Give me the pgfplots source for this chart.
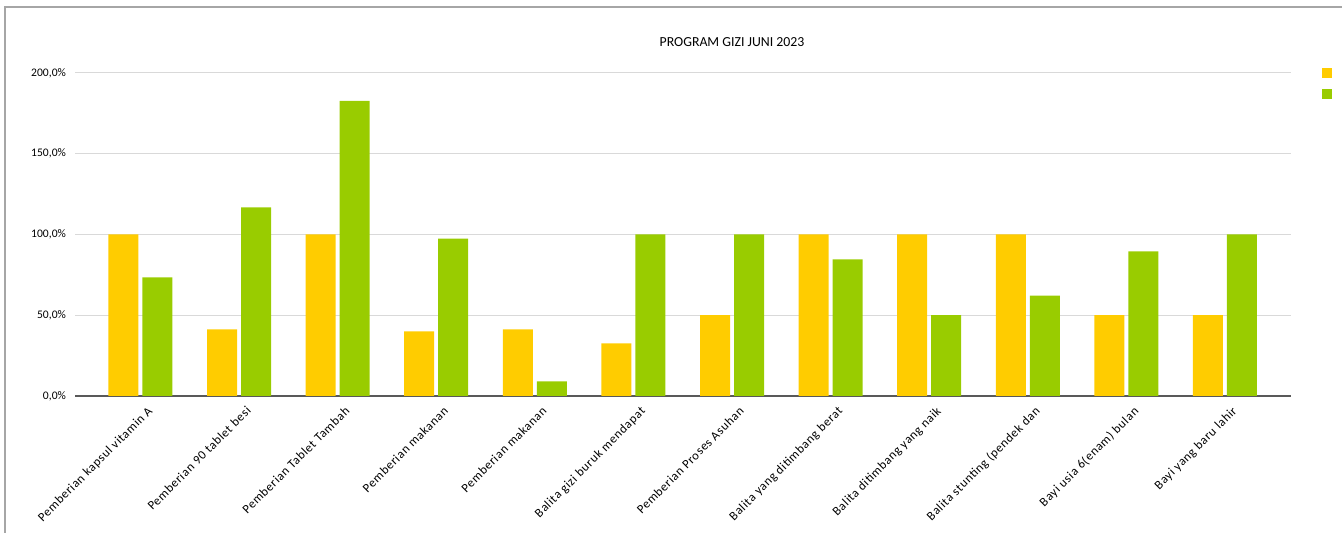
\documentclass[border=0pt]{standalone}
\usepackage{pgfplots}
\pgfplotsset{compat=1.18}
\usepackage{fontspec}
\setmainfont{Carlito}
\definecolor{cyel}{HTML}{FFCC00}
\definecolor{cgrn}{HTML}{99CC00}
\definecolor{cgrid}{HTML}{D9D9D9}
\definecolor{cframe}{HTML}{A6A6A6}
\begin{document}
\begin{tikzpicture}[x=1pt,y=1pt]
\useasboundingbox (0,0) rectangle (671,-266.5);
\draw[cframe,line width=0.6pt] (2.5,-266.5) -- (2.5,-3.5) -- (671,-3.5);
\node[font=\fontsize{6.9}{8}\selectfont] at (366,-21) {PROGRAM GIZI JUNI 2023};
\begin{axis}[
  at={(37.5pt,-198pt)}, anchor=south west,
  scale only axis, width=608pt, height=161.5pt,
  ybar=2pt, bar width=15pt,
  xmin=-0.664, xmax=11.67, ymin=0, ymax=200,
  xtick={0,...,11},
  xticklabels={Pemberian kapsul vitamin A,Pemberian 90 tablet besi,Pemberian Tablet Tambah,Pemberian makanan,Pemberian makanan,Balita gizi buruk mendapat,Pemberian Proses Asuhan,Balita yang ditimbang berat,Balita ditimbang yang naik,Balita stunting (pendek dan,Bayi usia 6(enam) bulan,Bayi yang baru lahir},
  x tick label style={rotate=45, anchor=north east, font=\fontsize{6.3}{7}\selectfont\addfontfeature{LetterSpace=5}, xshift=0pt, yshift=-4.5pt, inner sep=1pt},
  ytick={0,50,100,150,200},
  yticklabels={{0,0\%},{50,0\%},{100,0\%},{150,0\%},{200,0\%}},
  y tick label style={font=\fontsize{5.8}{7}\selectfont, xshift=-1pt},
  ymajorgrids, grid style={cgrid, line width=0.5pt},
  axis x line=bottom, axis y line=left,
  y axis line style={draw=none},
  x axis line style={draw=black!65, line width=0.6pt, -},
  major tick length=0pt,
  legend style={at={(1.033,1.019)}, anchor=north, draw=none, fill=none, font=\fontsize{5.8}{7}\selectfont, row sep=5pt, inner sep=0pt},
  legend image code/.code={\fill[#1] (0pt,-2.5pt) rectangle (5pt,2.5pt);},
]
\addplot[fill=cyel, draw=none] coordinates {(0,100) (1,41.3) (2,100) (3,40) (4,41.3) (5,32.6) (6,50) (7,100) (8,100) (9,100) (10,50) (11,50)};
\addlegendentry{\mbox{}}
\addplot[fill=cgrn, draw=none] coordinates {(0,73.5) (1,116.8) (2,182.8) (3,97.4) (4,9.1) (5,100) (6,100) (7,84.6) (8,50) (9,62.1) (10,89.6) (11,100)};
\addlegendentry{\mbox{}}
\end{axis}
\end{tikzpicture}
\end{document}
